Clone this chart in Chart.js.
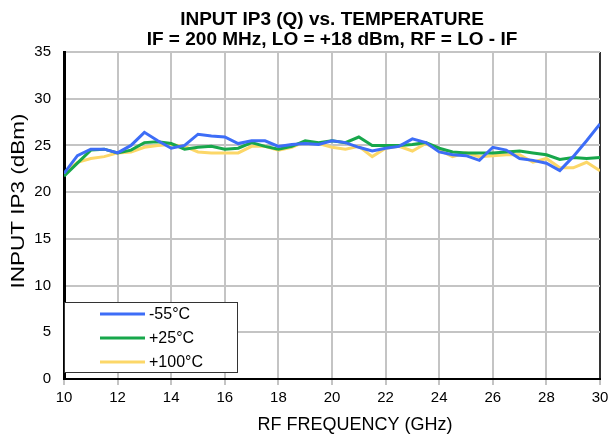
<!DOCTYPE html>
<html>
<head>
<meta charset="utf-8">
<script src="https://cdn.jsdelivr.net/npm/chart.js@4.4.1/dist/chart.umd.min.js"></script>
<style>
  html, body { margin: 0; padding: 0; background: #fff; }
  #wrap { width: 616px; height: 436px; }
</style>
</head>
<body>
<div id="wrap"><canvas id="ip3Chart" width="616" height="436"></canvas></div>
<script>
// Frequências (GHz)
const freqGHz = [10, 10.5, 11, 11.5, 12, 12.5, 13, 13.5, 14, 14.5, 15, 15.5, 16, 16.5, 17, 17.5,
  18, 18.5, 19, 19.5, 20, 20.5, 21, 21.5, 22, 22.5, 23, 23.5, 24, 24.5, 25, 25.5, 26, 26.5,
  27, 27.5, 28, 28.5, 29, 29.5, 30];

// IP3 de entrada (dBm) por temperatura
const ip3Minus55 = [22.0, 23.9, 24.6, 24.6, 24.2, 25.0, 26.4, 25.5, 24.7, 25.0, 26.2, 26.0, 25.9, 25.2,
  25.5, 25.5, 24.9, 25.1, 25.2, 25.1, 25.5, 25.3, 24.8, 24.4, 24.7, 24.9, 25.7, 25.3, 24.3, 24.0,
  23.9, 23.4, 24.8, 24.5, 23.6, 23.4, 23.1, 22.3, 23.8, 25.5, 27.3];
const ip3Plus25 = [21.7, 23.1, 24.5, 24.6, 24.2, 24.5, 25.3, 25.4, 25.2, 24.6, 24.8, 24.9, 24.6, 24.7,
  25.3, 24.9, 24.6, 24.9, 25.5, 25.3, 25.5, 25.3, 25.9, 25.0, 25.0, 25.0, 25.1, 25.3, 24.7, 24.3,
  24.2, 24.2, 24.2, 24.3, 24.4, 24.2, 24.0, 23.5, 23.7, 23.6, 23.7];
const ip3Plus100 = [22.0, 23.2, 23.6, 23.8, 24.2, 24.3, 24.8, 25.0, 25.1, 24.9, 24.3, 24.2, 24.2, 24.2,
  24.9, 24.9, 24.5, 24.8, 25.4, 25.2, 24.8, 24.6, 24.9, 23.8, 24.7, 24.9, 24.4, 25.2, 24.5, 23.8,
  24.2, 23.8, 23.9, 24.0, 24.0, 23.2, 23.6, 22.6, 22.6, 23.2, 22.3];

const seriesLabels = ["-55°C", "+25°C", "+100°C"];
const seriesColors = ["#3d6df7", "#17a74b", "#fcd768"];
const xTitle = "RF FREQUENCY (GHz)";
const yTitle = "INPUT IP3 (dBm)";

const FONT = "'Liberation Sans', Arial, sans-serif";

function toPoints(values) {
  return freqGHz.map((f, i) => ({ x: f, y: values[i] }));
}

// Legenda e títulos dos eixos desenhados à mão
const boxLegend = {
  id: "boxLegend",
  afterDatasetsDraw(chart) {
    const ctx = chart.ctx;
    const left = chart.chartArea.left;
    ctx.save();
    ctx.fillStyle = "#fff";
    ctx.fillRect(left, 302, 173, 70);
    ctx.strokeStyle = "#333";
    ctx.lineWidth = 1;
    ctx.strokeRect(left + 0.5, 302.5, 173, 70);
    ctx.font = "16px " + FONT;
    ctx.textBaseline = "middle";
    chart.data.datasets.forEach((ds, i) => {
      const y = 314 + i * 24;
      ctx.strokeStyle = ds.borderColor;
      ctx.lineWidth = 3;
      ctx.beginPath();
      ctx.moveTo(left + 36, y);
      ctx.lineTo(left + 81, y);
      ctx.stroke();
      ctx.fillStyle = "#000";
      ctx.fillText(ds.label, left + 85, y + 1);
    });
    ctx.restore();
  },
  afterDraw(chart) {
    const ctx = chart.ctx;
    ctx.save();
    ctx.fillStyle = "#000";
    ctx.font = "18px " + FONT;
    ctx.textAlign = "center";
    ctx.textBaseline = "middle";
    ctx.fillText(xTitle, 355, 425);
    ctx.translate(19, 201);
    ctx.rotate(-Math.PI / 2);
    ctx.scale(1.25, 1);
    ctx.fillText(yTitle, 0, 0);
    ctx.restore();
  },
};

const ctx = document.getElementById("ip3Chart").getContext("2d");
new Chart(ctx, {
  type: "line",
  data: {
    datasets: [
      { label: seriesLabels[0], data: toPoints(ip3Minus55), borderColor: seriesColors[0] },
      { label: seriesLabels[1], data: toPoints(ip3Plus25), borderColor: seriesColors[1] },
      { label: seriesLabels[2], data: toPoints(ip3Plus100), borderColor: seriesColors[2] },
    ].map((d) => Object.assign(d, { borderWidth: 3, pointRadius: 0, tension: 0, fill: false })),
  },
  options: {
    responsive: false,
    animation: false,
    layout: { padding: { left: 0, right: 16, top: 0, bottom: 0 } },
    plugins: {
      legend: { display: false },
      tooltip: { enabled: false },
      title: {
        display: true,
        fullSize: false,
        text: ["INPUT IP3 (Q) vs. TEMPERATURE", "IF = 200 MHz, LO = +18 dBm, RF = LO - IF"],
        color: "#000",
        font: { family: FONT, size: 19, weight: "bold", lineHeight: "20px" },
        padding: { top: 10, bottom: 2 },
      },
    },
    scales: {
      x: {
        type: "linear",
        min: 10,
        max: 30,
        ticks: { stepSize: 2, color: "#000", font: { family: FONT, size: 15 }, padding: 4, maxRotation: 0 },
        grid: {
          color: (c) => (c.tick && c.tick.value === 30 ? "#333" : "#c4c4c4"),
          lineWidth: 2,
          tickLength: 6,
          tickColor: "#c4c4c4",
        },
        border: { color: "#000", width: 2 },
        title: { display: false },
        afterFit(scale) { scale.height = 57; },
      },
      y: {
        min: 0,
        max: 35,
        ticks: { stepSize: 5, color: "#000", font: { family: FONT, size: 15 }, padding: 13 },
        grid: { color: "#c4c4c4", lineWidth: 2, drawTicks: false },
        border: { color: "#000", width: 3 },
        title: { display: false },
        afterFit(scale) { scale.width = 64; },
      },
    },
  },
  plugins: [boxLegend],
});
</script>
</body>
</html>
